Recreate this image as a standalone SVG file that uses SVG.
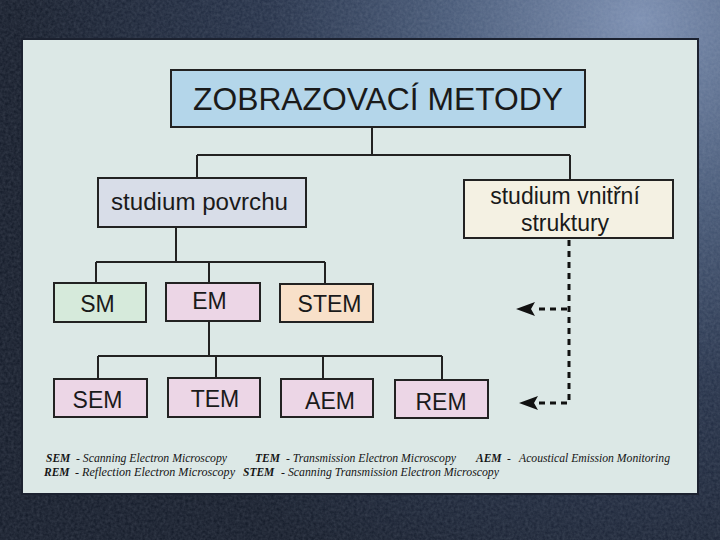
<svg xmlns="http://www.w3.org/2000/svg" width="720" height="540" viewBox="0 0 720 540">
<defs>
<radialGradient id="bg" cx="640" cy="20" r="620" gradientUnits="userSpaceOnUse">
<stop offset="0" stop-color="#7d90b2"/>
<stop offset="0.3" stop-color="#4a5c7a"/>
<stop offset="0.6" stop-color="#27334a"/>
<stop offset="1" stop-color="#171e2c"/>
</radialGradient>
<filter id="tex" x="0" y="0" width="100%" height="100%">
<feTurbulence type="fractalNoise" baseFrequency="0.35" numOctaves="2" seed="3" result="n"/>
<feColorMatrix in="n" type="matrix" values="0 0 0 0 0.5  0 0 0 0 0.55  0 0 0 0 0.65  0 0 0 0.35 -0.05"/>
<feComposite in2="SourceGraphic" operator="in"/>
</filter>
<marker id="ah" viewBox="0 0 20 14" refX="1" refY="7" markerWidth="20" markerHeight="14" markerUnits="userSpaceOnUse" orient="auto">
<path d="M19,7 L0,0 L4,7 L0,14 Z" fill="#111"/>
</marker>
<style>
.box{stroke:#222;stroke-width:2}
.lbl{font-family:"Liberation Sans",Arial,sans-serif;fill:#1a1a1a;text-anchor:middle}
.ln{fill:none;stroke:#222;stroke-width:2}
.dash{fill:none;stroke:#111;stroke-width:3;stroke-dasharray:6,5}
.leg{font-family:"Liberation Serif","Times New Roman",serif;font-style:italic;font-size:11.5px;fill:#151515}
.b{font-weight:bold}
</style>
</defs>
<rect width="720" height="540" fill="url(#bg)"/>
<rect width="720" height="540" fill="#fff" filter="url(#tex)" opacity="0.6"/>
<rect x="22" y="39" width="676" height="455" fill="#dce8e6" stroke="#1c2230" stroke-width="2"/>

<g id="connectors">
<path class="ln" d="M372,127 V155 M197,155 H570 M197,155 V178 M570,155 V180"/>
<path class="ln" d="M176,227 V262 M96,262 H325 M96,262 V283 M209,262 V283 M325,262 V284"/>
<path class="ln" d="M209,321 V356 M98,356 H442 M98,356 V379 M216,356 V378 M323,356 V379 M442,356 V380"/>
<path class="dash" d="M569,240 V403"/>
<path class="dash" d="M567,309 H534" marker-end="url(#ah)"/>
<path class="dash" d="M567,403 H537" marker-end="url(#ah)"/>
</g>

<g id="title">
<rect class="box" x="171" y="70" width="414" height="57" fill="#b4d6ea"/>
<text class="lbl" x="378" y="110" font-size="31.5" textLength="370" lengthAdjust="spacingAndGlyphs">ZOBRAZOVACÍ METODY</text>
</g>
<g id="povrch">
<rect class="box" x="98" y="178" width="208" height="49" fill="#d8dde8"/>
<text class="lbl" x="199.5" y="210" font-size="23" textLength="177" lengthAdjust="spacingAndGlyphs">studium povrchu</text>
</g>
<g id="vnitrni">
<rect class="box" x="464" y="180" width="209" height="58" fill="#f4f1e3"/>
<text class="lbl" x="565" y="204" font-size="23">studium vnitřní</text>
<text class="lbl" x="565" y="231" font-size="23">struktury</text>
</g>
<g id="SM">
<rect class="box" x="54" y="283" width="92" height="39" fill="#d6eadb"/>
<text class="lbl" x="97.5" y="312" font-size="23">SM</text>
</g>
<g id="EM">
<rect class="box" x="166" y="283" width="94" height="38" fill="#ecd6e6"/>
<text class="lbl" x="209.5" y="309" font-size="23">EM</text>
</g>
<g id="STEM">
<rect class="box" x="280" y="284" width="93" height="38" fill="#f8e0c9"/>
<text class="lbl" x="329.5" y="312" font-size="23">STEM</text>
</g>
<g id="SEM">
<rect class="box" x="54" y="379" width="93" height="38" fill="#ecd6e6"/>
<text class="lbl" x="97.5" y="408" font-size="23">SEM</text>
</g>
<g id="TEM">
<rect class="box" x="168" y="378" width="92" height="39" fill="#ecd6e6"/>
<text class="lbl" x="215" y="407" font-size="23">TEM</text>
</g>
<g id="AEM">
<rect class="box" x="281" y="379" width="92" height="38" fill="#ecd6e6"/>
<text class="lbl" x="330" y="409" font-size="23">AEM</text>
</g>
<g id="REM">
<rect class="box" x="395" y="380" width="93" height="38" fill="#ecd6e6"/>
<text class="lbl" x="441" y="410" font-size="23">REM</text>
</g>

<g id="legend">
<text class="leg b" x="46" y="462">SEM</text>
<text class="leg" x="76" y="462" textLength="151" lengthAdjust="spacingAndGlyphs">- Scanning Electron Microscopy</text>
<text class="leg b" x="255" y="462">TEM</text>
<text class="leg" x="286" y="462" textLength="170" lengthAdjust="spacingAndGlyphs">- Transmission Electron Microscopy</text>
<text class="leg b" x="476" y="462">AEM</text>
<text class="leg" x="507" y="462">-</text>
<text class="leg" x="519" y="462" textLength="151" lengthAdjust="spacingAndGlyphs">Acoustical Emission Monitoring</text>
<text class="leg b" x="44" y="476">REM</text>
<text class="leg" x="75" y="476" textLength="160" lengthAdjust="spacingAndGlyphs">- Reflection Electron Microscopy</text>
<text class="leg b" x="243" y="476">STEM</text>
<text class="leg" x="281" y="476" textLength="218" lengthAdjust="spacingAndGlyphs">- Scanning Transmission Electron Microscopy</text>
</g>
</svg>
